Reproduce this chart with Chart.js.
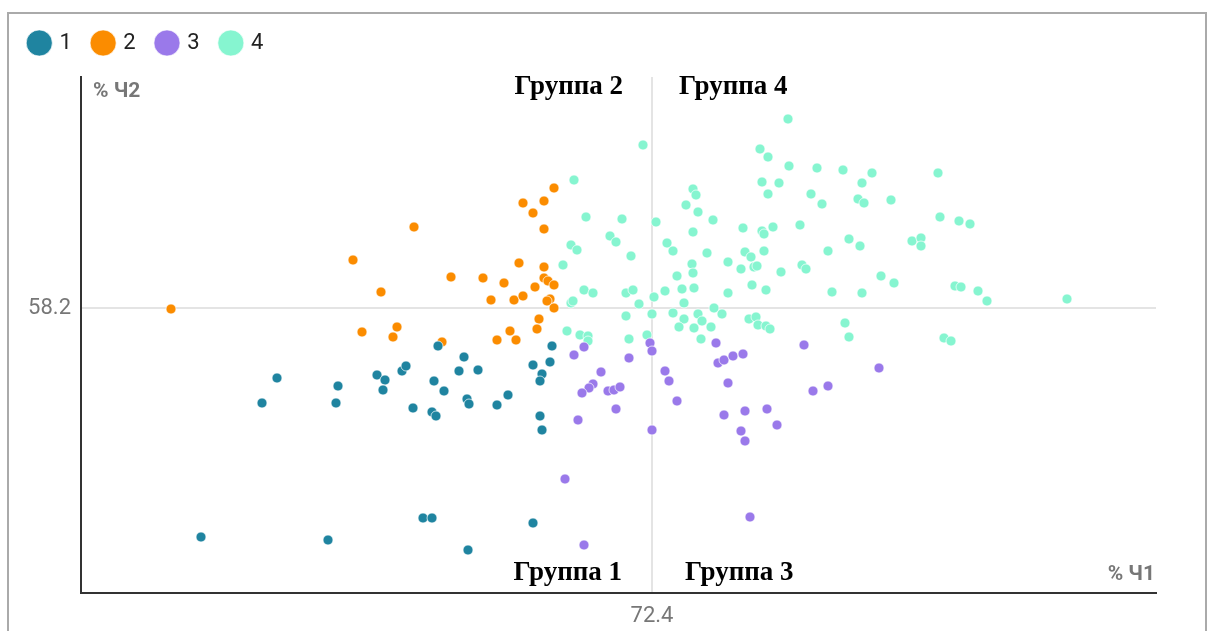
<!DOCTYPE html>
<html>
<head>
<meta charset="utf-8">
<script src="https://cdn.jsdelivr.net/npm/chart.js@4.4.0/dist/chart.umd.min.js"></script>
<style>
  body { margin: 0; background: #fff; }
  #frame { position: absolute; left: 7px; top: 12px; width: 1196px; height: 640px; border: 2px solid #aaa; border-bottom: none; }
  #wrap { position: absolute; left: 0; top: 0; width: 1214px; height: 631px; }
</style>
</head>
<body>
<div id="frame"></div>
<div id="wrap"><canvas id="mycanvas" width="1214" height="631"></canvas></div>
<script>
// % Ч1 (x), % Ч2 (y)
var group1 = [
  [53.65, 54.7], [52.9, 53.45], [56.7, 54.3], [56.6, 53.45], [58.65, 54.85], [59.05, 54.6],
  [58.95, 54.1], [59.9, 55.05], [60.1, 55.3], [61.7, 56.3], [61.5, 54.55], [62.0, 54.05],
  [60.45, 53.2], [61.4, 53.0], [61.6, 52.8], [63.0, 55.75], [62.75, 55.05], [63.7, 55.1],
  [63.15, 53.65], [63.25, 53.4], [64.65, 53.35], [65.2, 53.85], [66.45, 55.35], [67.3, 55.5],
  [67.4, 56.3], [66.9, 54.9], [66.8, 54.55], [66.8, 52.8], [66.9, 52.1], [49.85, 46.75],
  [56.2, 46.6], [60.95, 47.7], [61.4, 47.7], [63.2, 46.1], [66.45, 47.45]
];
var group2 = [
  [67.5, 64.2], [65.95, 63.45], [67.0, 63.55], [66.45, 62.95], [60.5, 62.25], [67.0, 62.15],
  [57.45, 60.6], [65.75, 60.45], [67.0, 60.25], [62.35, 59.75], [63.95, 59.7], [65.0, 59.45],
  [67.0, 59.7], [67.2, 59.55], [67.5, 59.35], [66.55, 59.25], [58.85, 59.0], [64.35, 58.6],
  [65.5, 58.6], [65.95, 58.8], [67.3, 58.65], [67.15, 58.55], [67.5, 58.2], [66.75, 57.65],
  [59.65, 57.25], [57.9, 57.0], [59.45, 56.75], [65.3, 57.05], [66.65, 57.15], [64.65, 56.6],
  [65.6, 56.6], [61.9, 56.5], [48.35, 58.15]
];
var group3 = [
  [72.3, 56.45], [72.4, 56.05], [69.0, 56.25], [68.5, 55.85], [71.25, 55.7], [69.85, 55.0],
  [69.45, 54.4], [69.25, 54.2], [68.9, 53.95], [70.2, 54.05], [70.5, 54.1], [70.8, 54.25],
  [70.6, 53.15], [68.7, 52.6], [72.4, 52.1], [73.05, 55.05], [73.25, 54.55], [73.65, 53.55],
  [75.6, 56.45], [75.7, 55.45], [76.0, 55.6], [76.45, 55.8], [76.95, 55.9], [76.2, 54.45],
  [76.0, 52.85], [77.05, 53.05], [78.15, 53.15], [78.65, 52.35], [76.85, 52.05], [77.05, 51.55],
  [68.05, 49.65], [69.0, 46.35], [77.3, 47.75], [80.0, 56.35], [83.75, 55.2], [80.45, 54.05],
  [81.2, 54.3]
];
var group4 = [
  [71.95, 66.35], [68.5, 64.6], [69.1, 62.75], [70.9, 62.65], [72.6, 62.5], [70.3, 61.8],
  [70.6, 61.5], [68.35, 61.35], [68.65, 61.1], [71.35, 60.8], [67.95, 60.35], [73.15, 61.45],
  [73.45, 61.05], [74.1, 63.35], [74.45, 64.15], [74.6, 63.85], [74.7, 63.0], [75.45, 62.6],
  [74.45, 62.0], [75.15, 60.95], [74.4, 60.4], [74.45, 59.95], [73.65, 59.8], [73.9, 59.15],
  [74.5, 59.2], [73.05, 59.05], [72.5, 58.75], [71.75, 58.4], [71.1, 58.95], [71.45, 59.1],
  [69.0, 59.1], [69.45, 58.95], [68.35, 58.45], [68.45, 58.55], [74.0, 58.45], [73.45, 57.95],
  [72.4, 57.9], [71.1, 57.8], [74.7, 57.9], [74.9, 57.55], [74.0, 57.65], [75.5, 58.2],
  [75.9, 57.9], [73.75, 57.25], [74.5, 57.2], [75.35, 57.25], [74.85, 56.65], [68.15, 57.05],
  [68.8, 56.85], [69.2, 56.8], [69.2, 56.55], [71.25, 56.65], [72.15, 56.85], [76.2, 60.5],
  [76.85, 60.15], [77.05, 61.0], [77.35, 60.75], [77.5, 60.25], [77.65, 60.3], [76.95, 62.2],
  [77.9, 62.05], [78.0, 61.9], [78.45, 62.25], [78.0, 61.05], [77.4, 59.35], [78.1, 59.1],
  [76.2, 58.95], [78.85, 60.0], [77.8, 66.15], [78.2, 65.75], [77.9, 64.5], [78.75, 64.45],
  [78.2, 63.9], [79.25, 65.3], [77.25, 57.65], [77.6, 57.75], [77.7, 57.35], [78.1, 57.3],
  [78.3, 57.15], [79.2, 67.65], [80.65, 65.2], [81.95, 65.1], [83.4, 64.95], [86.7, 64.95],
  [82.9, 64.45], [80.35, 63.9], [80.9, 63.4], [82.7, 63.65], [83.0, 63.45], [84.35, 63.6],
  [86.8, 62.75], [87.75, 62.55], [88.3, 62.4], [79.8, 62.35], [82.25, 61.65], [82.8, 61.3],
  [81.2, 61.05], [85.4, 61.55], [85.85, 61.7], [85.85, 61.3], [79.9, 60.35], [80.1, 60.15],
  [83.85, 59.8], [84.5, 59.45], [81.4, 59.0], [82.9, 58.95], [87.55, 59.3], [87.85, 59.25],
  [88.7, 59.05], [89.15, 58.55], [93.15, 58.65], [82.05, 57.45], [82.25, 56.75], [87.0, 56.7],
  [87.35, 56.55]
];

var groupNames = ["1", "2", "3", "4"];
var groupColors = ["#1f84a0", "#fb8c00", "#9a79ea", "#86f5d0"];
var xTick = 72.4;
var yTick = 58.2;
var xRange = [43.85, 97.6];
var yRange = [43.95, 69.75];

function toPoints(arr) {
  return arr.map(function (p) { return { x: p[0], y: p[1] }; });
}

var allGroups = [group1, group2, group3, group4];
var datasets = allGroups.map(function (g, i) {
  return {
    label: groupNames[i],
    data: toPoints(g),
    backgroundColor: groupColors[i],
    borderColor: "rgba(255,255,255,0.7)",
    borderWidth: 1,
    pointRadius: 5,
    pointStyle: "circle"
  };
});

var legendFix = {
  id: "legendFix",
  beforeInit: function (chart) {
    var fit = chart.legend.fit;
    chart.legend.fit = function () {
      fit.bind(this)();
      this.height = 67;
    };
  }
};

var labelsPlugin = {
  id: "labelsPlugin",
  afterDraw: function (chart) {
    var ctx = chart.ctx;
    var a = chart.chartArea;
    var xs = chart.scales.x.getPixelForValue(xTick);
    ctx.save();
    // axis names
    ctx.fillStyle = "#777";
    ctx.font = "bold 21px Roboto";
    ctx.textBaseline = "alphabetic";
    ctx.textAlign = "left";
    ctx.fillText("% Ч2", a.left + 12, a.top + 20);
    ctx.textAlign = "right";
    ctx.fillText("% Ч1", a.right - 1, a.bottom - 13);
    // quadrant names
    ctx.fillStyle = "#000";
    ctx.font = "bold 27px 'Liberation Serif'";
    ctx.textAlign = "right";
    ctx.fillText("Группа 2", xs - 29, a.top + 17);
    ctx.fillText("Группа 1", xs - 30, a.bottom - 13);
    ctx.textAlign = "left";
    ctx.fillText("Группа 4", xs + 27, a.top + 17);
    ctx.fillText("Группа 3", xs + 33, a.bottom - 13);
    ctx.restore();
  }
};

var ctx = document.getElementById("mycanvas");

var ScatterGraph = new Chart(ctx, {
  type: "scatter",
  data: { datasets: datasets },
  options: {
    responsive: false,
    animation: false,
    layout: { padding: { left: 8, top: 10, right: 58, bottom: 0 } },
    plugins: {
      tooltip: { enabled: false },
      legend: {
        position: "top",
        align: "start",
        labels: {
          usePointStyle: true,
          pointStyle: "circle",
          boxWidth: 18.5,
          boxHeight: 18.5,
          padding: 22,
          color: "#222",
          font: { family: "Roboto", size: 22 }
        }
      }
    },
    scales: {
      x: {
        type: "linear",
        min: xRange[0],
        max: xRange[1],
        afterBuildTicks: function (scale) { scale.ticks = [{ value: xTick }]; },
        afterFit: function (scale) { scale.height = 38; },
        grid: { color: "#e4e4e4", lineWidth: 2, drawTicks: false },
        border: { display: true, color: "#333", width: 2 },
        ticks: {
          padding: 10,
          color: "#777",
          font: { family: "Roboto", size: 22 },
          callback: function (v) { return v.toFixed(1); }
        }
      },
      y: {
        type: "linear",
        min: yRange[0],
        max: yRange[1],
        afterBuildTicks: function (scale) { scale.ticks = [{ value: yTick }]; },
        afterFit: function (scale) { scale.width = 73; },
        grid: { color: "#e4e4e4", lineWidth: 2, drawTicks: false },
        border: { display: true, color: "#333", width: 2 },
        ticks: {
          padding: 10,
          color: "#777",
          font: { family: "Roboto", size: 22 },
          callback: function (v) { return v.toFixed(1); }
        }
      }
    }
  },
  plugins: [legendFix, labelsPlugin]
});
</script>
</body>
</html>
